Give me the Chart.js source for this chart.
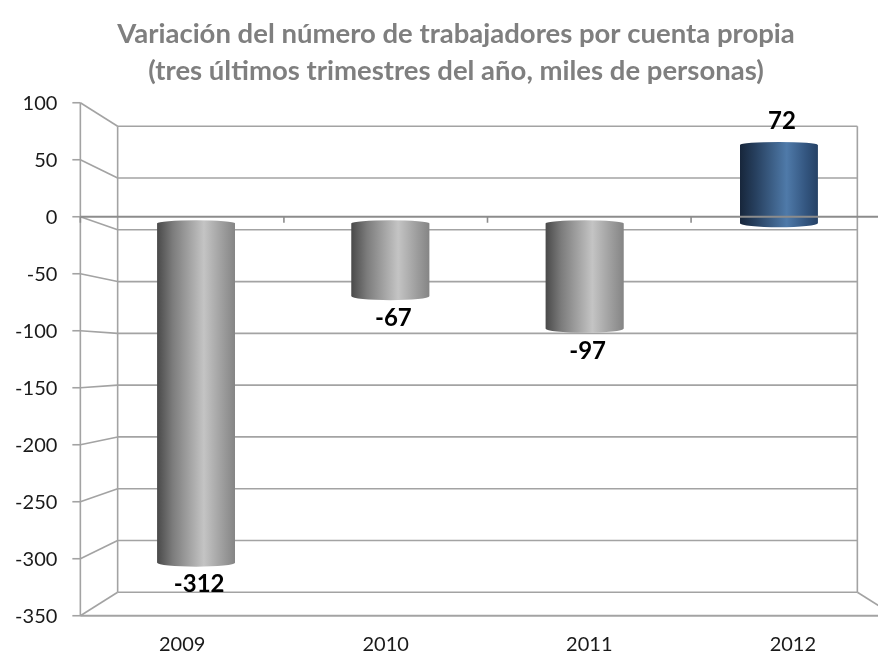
<!DOCTYPE html>
<html>
<head>
<meta charset="utf-8">
<script src="https://cdn.jsdelivr.net/npm/chart.js@4/dist/chart.umd.min.js"></script>
<style>
  html, body { margin: 0; padding: 0; background: #fff; }
  #wrap { width: 878px; height: 654px; }
</style>
</head>
<body>
<div id="wrap"><canvas id="chart" width="878" height="654"></canvas></div>
<script>
// datos
const years = ['2009', '2010', '2011', '2012'];
const variation = [-312, -67, -97, 72];
const yMin = -350;
const yMax = 100;
const yStep = 50;
const titleLines = [
  'Variación del número de trabajadores por cuenta propia',
  '(tres últimos trimestres del año, miles de personas)'
];

// perspectiva: plano frontal / plano del fondo
const kFront = 1.048;
const kBack = 0.952;
const gridColor = '#a3a3a3';

function project(chart, x, y, k) {
  const ca = chart.chartArea;
  const cx = (ca.left + ca.right) / 2;
  const cy = (ca.top + ca.bottom) / 2;
  return [cx + k * (x - cx), cy + k * (y - cy)];
}

function cylGradient(ctx, left, right, positive) {
  const g = ctx.createLinearGradient(left, 0, right, 0);
  if (positive) {
    g.addColorStop(0, '#17263b');
    g.addColorStop(0.2, '#27405f');
    g.addColorStop(0.6, '#4f7aa9');
    g.addColorStop(0.85, '#33557f');
    g.addColorStop(1, '#264266');
  } else {
    g.addColorStop(0, '#4a4a4a');
    g.addColorStop(0.2, '#7c7c7c');
    g.addColorStop(0.6, '#c4c4c4');
    g.addColorStop(0.85, '#9c9c9c');
    g.addColorStop(1, '#858585');
  }
  return g;
}

function tickValues(chart) {
  const y = chart.scales.y;
  if (y.ticks && y.ticks.length) return y.ticks.map(t => t.value);
  const out = [];
  for (let v = yMin; v <= yMax; v += yStep) out.push(v);
  return out;
}

function line(ctx, a, b) {
  ctx.beginPath();
  ctx.moveTo(a[0], a[1]);
  ctx.lineTo(b[0], b[1]);
  ctx.stroke();
}

const walls = {
  id: 'walls',
  beforeDatasetsDraw(chart) {
    const ctx = chart.ctx;
    const ca = chart.chartArea;
    const y = chart.scales.y;
    ctx.save();
    ctx.strokeStyle = gridColor;
    ctx.lineWidth = 1.6;
    const vals = tickValues(chart);
    vals.forEach(v => {
      const py = y.getPixelForValue(v);
      const bl = project(chart, ca.left, py, kBack);
      const br = project(chart, ca.right, py, kBack);
      const fl = project(chart, ca.left, py, kFront);
      line(ctx, bl, br);               // pared del fondo
      line(ctx, fl, bl);               // pared lateral
      line(ctx, [fl[0] - 8, fl[1]], fl); // marca del eje
    });
    const top = y.getPixelForValue(yMax);
    const bottom = y.getPixelForValue(yMin);
    // aristas verticales
    line(ctx, project(chart, ca.left, top, kBack), project(chart, ca.left, bottom, kBack));
    line(ctx, project(chart, ca.right, top, kBack), project(chart, ca.right, bottom, kBack));
    line(ctx, project(chart, ca.left, top, kFront), project(chart, ca.left, bottom, kFront));
    // suelo
    line(ctx, project(chart, ca.right, bottom, kBack), project(chart, ca.right, bottom, kFront));
    ctx.lineWidth = 2;
    line(ctx, project(chart, ca.left, bottom, kFront), project(chart, ca.right, bottom, kFront));
    ctx.restore();
  },
  afterDatasetsDraw(chart) {
    const ctx = chart.ctx;
    const ca = chart.chartArea;
    const y = chart.scales.y;
    const x = chart.scales.x;
    const meta = chart.getDatasetMeta(0);
    ctx.save();

    // tapas de los cilindros
    meta.data.forEach((el, i) => {
      const p = el.getProps(['x', 'y', 'base', 'width'], true);
      const left = p.x - p.width / 2;
      const right = p.x + p.width / 2;
      const top = Math.min(p.y, p.base);
      const bot = Math.max(p.y, p.base);
      ctx.beginPath();
      ctx.moveTo(left, top);
      ctx.ellipse(p.x, top, p.width / 2, 3, 0, Math.PI, 2 * Math.PI);
      ctx.lineTo(right, bot);
      ctx.ellipse(p.x, bot, p.width / 2, 4, 0, 0, Math.PI);
      ctx.closePath();
      ctx.fillStyle = cylGradient(ctx, left, right, variation[i] > 0);
      ctx.fill();
    });

    // eje de categorías en el cero
    const zero = y.getPixelForValue(0);
    ctx.strokeStyle = '#8c8c8c';
    ctx.lineWidth = 2;
    line(ctx, project(chart, ca.left, zero, kFront), project(chart, ca.right, zero, kFront));
    ctx.lineWidth = 1.6;
    const bw = (ca.right - ca.left) / years.length;
    for (let i = 0; i <= years.length; i++) {
      const p = project(chart, ca.left + i * bw, zero, kFront);
      line(ctx, p, [p[0], p[1] + 6]);
    }

    // etiquetas del eje Y
    ctx.fillStyle = '#1a1a1a';
    ctx.font = '20px Lato';
    ctx.textAlign = 'right';
    ctx.textBaseline = 'middle';
    tickValues(chart).forEach(v => {
      const p = project(chart, ca.left, y.getPixelForValue(v), kFront);
      ctx.fillText(String(v), p[0] - 23, p[1] + 1);
    });

    // etiquetas del eje X
    ctx.textAlign = 'center';
    const bottom = y.getPixelForValue(yMin);
    years.forEach((lab, i) => {
      const p = project(chart, x.getPixelForValue(i), bottom, kFront);
      ctx.fillText(lab, p[0], p[1] + 29);
    });

    // valores
    ctx.fillStyle = '#000';
    ctx.font = 'bold 24px Lato';
    meta.data.forEach((el, i) => {
      const p = el.getProps(['x', 'y'], true);
      const off = variation[i] < 0 ? 22 : -24;
      ctx.fillText(String(variation[i]), p.x + 3, p.y + off);
    });

    // título
    ctx.fillStyle = '#7f7f7f';
    ctx.font = 'bold 27.5px Lato';
    titleLines.forEach((t, i) => {
      ctx.fillText(t, 456, 34 + i * 37);
    });
    ctx.restore();
  }
};

const ctx = document.getElementById('chart').getContext('2d');
const chart = new Chart(ctx, {
  type: 'bar',
  data: {
    labels: years,
    datasets: [{
      data: variation,
      borderWidth: 0,
      categoryPercentage: 1,
      barPercentage: 0.4,
      backgroundColor: function(c) {
        const ch = c.chart;
        const ca = ch.chartArea;
        if (!ca || !ch.scales.x) return '#999';
        const cx = ch.scales.x.getPixelForValue(c.dataIndex);
        const w = (ca.right - ca.left) / years.length * 0.4;
        return cylGradient(ch.ctx, cx - w / 2, cx + w / 2, c.raw > 0);
      }
    }]
  },
  options: {
    responsive: false,
    animation: false,
    layout: { padding: { left: 99, right: 2, top: 114.5, bottom: 50 } },
    plugins: {
      legend: { display: false },
      title: { display: false },
      tooltip: { enabled: false }
    },
    scales: {
      x: { display: false },
      y: {
        display: false,
        min: yMin,
        max: yMax,
        ticks: { stepSize: yStep }
      }
    }
  },
  plugins: [walls]
});
</script>
</body>
</html>
